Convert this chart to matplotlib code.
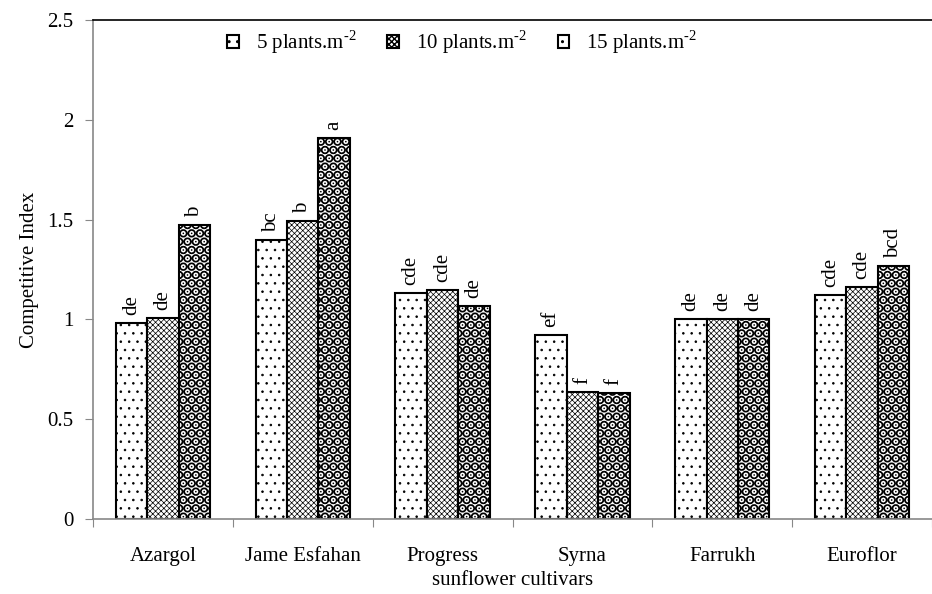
import numpy as np
import matplotlib
matplotlib.use('Agg')
import matplotlib.pyplot as plt

cultivars = ['Azargol', 'Jame Esfahan', 'Progress', 'Syrna', 'Farrukh', 'Euroflor']
series_names = ['5 plants.m$^{\\text{-2}}$', '10 plants.m$^{\\text{-2}}$', '15 plants.m$^{\\text{-2}}$']
d5 = [0.98, 1.40, 1.13, 0.92, 1.00, 1.12]
d10 = [1.005, 1.495, 1.145, 0.635, 1.00, 1.16]
d15 = [1.475, 1.91, 1.065, 0.63, 1.00, 1.27]
lab5 = ['de', 'bc', 'cde', 'ef', 'de', 'cde']
lab10 = ['de', 'b', 'cde', 'f', 'de', 'cde']
lab15 = ['b', 'a', 'de', 'f', 'de', 'bcd']

plt.rcParams['font.family'] = ['Liberation Serif', 'DejaVu Serif']
plt.rcParams['mathtext.fontset'] = 'custom'
plt.rcParams['mathtext.rm'] = 'Liberation Serif'

fig = plt.figure(figsize=(9.32, 5.94), dpi=100)
ax = fig.add_axes([0.0998, 0.1263, 0.9002, 0.84])

x = np.arange(len(cultivars)) + 0.5
w = 0.225
hatches = ['..', 'xxxxxx', '..']
hlw = [0.6, 0.5, 4.8]
series = [d5, d10, d15]
labels = [lab5, lab10, lab15]
for i in range(3):
    with plt.rc_context({'hatch.linewidth': hlw[i]}):
        bars = ax.bar(x + (i - 1) * w, series[i], w, color='white', edgecolor='black',
                      hatch=hatches[i], linewidth=1.5, label=series_names[i])
    for b, v, t in zip(bars, series[i], labels[i]):
        ax.text(b.get_x() + b.get_width() / 2, v + 0.04, t, rotation=90,
                ha='center', va='bottom', fontsize=15)

ax.set_xlim(0, 6)
ax.set_ylim(0, 2.5)
ax.set_yticks([0, 0.5, 1, 1.5, 2, 2.5])
ax.set_yticklabels(['0', '0.5', '1', '1.5', '2', '2.5'])
ax.set_xticks(np.arange(7), minor=False)
ax.set_xticklabels([])
ax.set_xticks(x, minor=True)
ax.set_xticklabels(cultivars, minor=True)
ax.tick_params(axis='x', which='minor', length=0, labelsize=15, pad=20)
ax.tick_params(axis='x', which='major', length=6, color='#888888')
ax.tick_params(axis='y', length=6, color='#888888', labelsize=15, pad=8)
for s in ['left', 'bottom']:
    ax.spines[s].set_color('#888888')
    ax.spines[s].set_linewidth(1.2)
ax.spines['right'].set_visible(False)
ax.spines['top'].set_linewidth(1.2)

ax.set_xlabel('sunflower cultivars', fontsize=15, labelpad=4)
ax.set_ylabel('Competitive Index', fontsize=15, labelpad=6)

ax.legend(loc='upper center', bbox_to_anchor=(0.44, 1.012), ncol=3, frameon=False,
          fontsize=15, handlelength=0.55, handleheight=0.55, columnspacing=1.5,
          handletextpad=0.8, borderpad=0.2)

plt.savefig('out.png', dpi=100)
